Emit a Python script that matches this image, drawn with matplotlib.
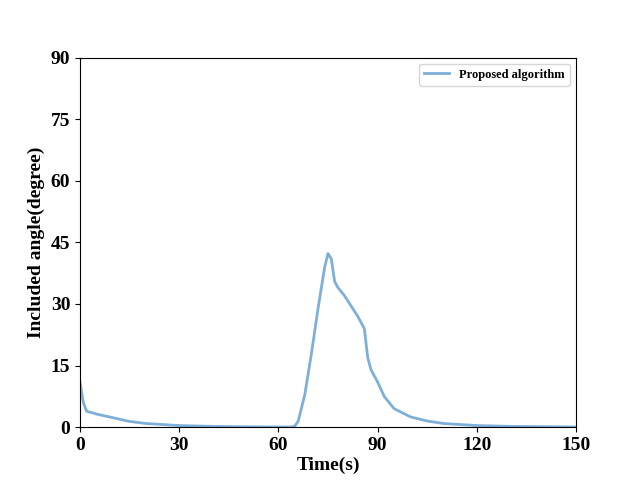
import matplotlib
matplotlib.use("Agg")
import matplotlib.pyplot as plt

time_s = [0, 1, 2, 5, 10, 15, 20, 30, 40, 50, 60, 64, 65, 66, 68, 70, 72, 74, 75, 76, 77,
          78, 80, 84, 86, 87, 88, 90, 92, 95, 100, 105, 110, 120, 130, 150]
angle_deg = [11, 6, 3.9, 3.2, 2.3, 1.4, 0.9, 0.4, 0.2, 0.1, 0.05, 0.05, 0.3, 1.5, 8, 18, 29, 39,
             42.3, 41, 35.5, 34, 32, 27, 24, 17, 14, 11, 7.5, 4.5, 2.5, 1.5, 0.9, 0.4, 0.2, 0.05]

plt.rcParams["font.family"] = ["Liberation Serif", "DejaVu Serif"]
plt.rcParams["font.weight"] = "bold"

fig, ax = plt.subplots(figsize=(6.4, 4.8), dpi=100)
ax.plot(time_s, angle_deg, color="#7eafd9", lw=2, label="Proposed algorithm")
ax.set_xlim(0, 150)
ax.set_ylim(0, 90)
ax.set_xticks(range(0, 151, 30))
ax.set_yticks(range(0, 91, 15))
ax.tick_params(labelsize=14)
for lab in ax.get_xticklabels() + ax.get_yticklabels():
    lab.set_fontweight("bold")
ax.set_xlabel("Time(s)", fontsize=14, fontweight="bold", labelpad=2)
ax.set_ylabel("Included angle(degree)", fontsize=14, fontweight="bold")
ax.legend(loc="upper right", prop={"weight": "bold", "size": 9})
fig.savefig("out.png", dpi=100)
